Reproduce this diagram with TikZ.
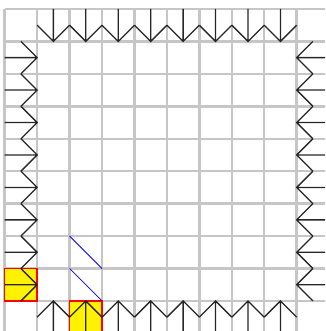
\documentclass[tikz,border=0pt]{standalone}
\usepackage{tikz}

\begin{document}
\begin{tikzpicture}[x=32.44pt, y=32.44pt]
  % Cadre
  \useasboundingbox (-0.145, 0.074) rectangle (9.874, 10.277);
  \clip (-0.145, 0.074) rectangle (9.874, 10.277);
  % Grille
  \draw[gray!45, line width=2.5pt, step=1] (0,0) grid (10,10);
  % Cases marquees
  \filldraw[fill=yellow, draw=red, line width=1.5pt] (0,1) rectangle (1,2);
  \filldraw[fill=yellow, draw=red, line width=1.5pt] (2,0) rectangle (3,1);
  % Diagonales
  \draw[blue, line width=0.8pt] (2,3) -- (3,2);
  \draw[blue, line width=0.8pt] (2,2) -- (3,1);
  % Fleches du bord
  \foreach \i in {1,...,8} {
    % haut
    \draw[black!85, line width=1.3pt] (\i+0.5, 10) -- (\i+0.5, 9)
      (\i, 9.5) -- (\i+0.5, 9) -- (\i+1, 9.5);
    % bas
    \draw[black!85, line width=1.3pt] (\i+0.5, 0) -- (\i+0.5, 1)
      (\i, 0.5) -- (\i+0.5, 1) -- (\i+1, 0.5);
    % gauche
    \draw[black!85, line width=1.3pt] (0, 9.5-\i) -- (1, 9.5-\i)
      (0.5, 10-\i) -- (1, 9.5-\i) -- (0.5, 9-\i);
    % droite
    \draw[black!85, line width=1.3pt] (10, 9.5-\i) -- (9, 9.5-\i)
      (9.5, 10-\i) -- (9, 9.5-\i) -- (9.5, 9-\i);
  }
\end{tikzpicture}
\end{document}
